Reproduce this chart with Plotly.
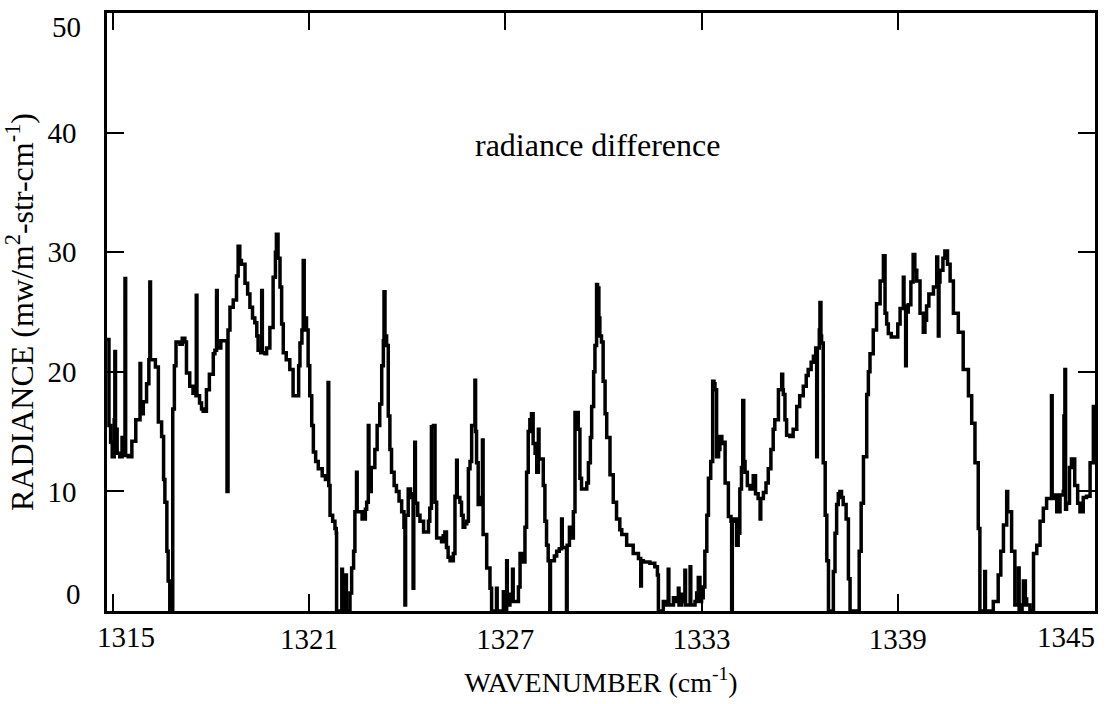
import plotly.graph_objects as go

wavenumber = [
    1314.82, 1314.88, 1314.93, 1314.98, 1315.04, 1315.06, 1315.08, 1315.13, 1315.21, 1315.28,
    1315.34, 1315.37, 1315.39, 1315.47, 1315.58, 1315.70, 1315.83, 1315.85, 1315.93, 1316.03,
    1316.10, 1316.13, 1316.15, 1316.30, 1316.39, 1316.49, 1316.55, 1316.59, 1316.65, 1316.69,
    1316.74, 1316.82, 1316.83, 1316.88, 1316.93, 1317.05, 1317.12, 1317.20, 1317.25, 1317.35,
    1317.45, 1317.54, 1317.55, 1317.57, 1317.65, 1317.71, 1317.76, 1317.86, 1317.95, 1318.07,
    1318.12, 1318.17, 1318.19, 1318.30, 1318.47, 1318.49, 1318.52, 1318.58, 1318.68, 1318.78,
    1318.83, 1318.88, 1318.93, 1319.04, 1319.12, 1319.19, 1319.27, 1319.34, 1319.40, 1319.44,
    1319.52, 1319.55, 1319.57, 1319.65, 1319.70, 1319.80, 1319.90, 1319.97, 1320.00, 1320.05,
    1320.11, 1320.16, 1320.21, 1320.30, 1320.41, 1320.51, 1320.62, 1320.68, 1320.72, 1320.78,
    1320.82, 1320.85, 1320.92, 1320.97, 1321.02, 1321.08, 1321.13, 1321.20, 1321.28, 1321.40,
    1321.50, 1321.58, 1321.60, 1321.64, 1321.72, 1321.79, 1321.83, 1321.84, 1321.98, 1322.00,
    1322.02, 1322.10, 1322.12, 1322.14, 1322.25, 1322.30, 1322.36, 1322.40, 1322.45, 1322.47,
    1322.55, 1322.62, 1322.66, 1322.72, 1322.76, 1322.81, 1322.83, 1322.90, 1323.01, 1323.08,
    1323.16, 1323.22, 1323.27, 1323.29, 1323.32, 1323.37, 1323.42, 1323.47, 1323.52, 1323.60,
    1323.67, 1323.75, 1323.83, 1323.90, 1323.93, 1323.95, 1324.03, 1324.10, 1324.16, 1324.18,
    1324.20, 1324.23, 1324.25, 1324.32, 1324.39, 1324.50, 1324.59, 1324.65, 1324.69, 1324.74,
    1324.80, 1324.85, 1324.90, 1325.00, 1325.05, 1325.10, 1325.15, 1325.20, 1325.25, 1325.31,
    1325.36, 1325.41, 1325.46, 1325.51, 1325.53, 1325.61, 1325.66, 1325.71, 1325.76, 1325.82,
    1325.87, 1325.92, 1325.97, 1326.07, 1326.09, 1326.12, 1326.17, 1326.25, 1326.30, 1326.32,
    1326.43, 1326.53, 1326.58, 1326.70, 1326.73, 1326.75, 1326.90, 1326.94, 1326.96, 1327.02,
    1327.04, 1327.06, 1327.14, 1327.20, 1327.22, 1327.24, 1327.34, 1327.40, 1327.45, 1327.50,
    1327.55, 1327.60, 1327.65, 1327.70, 1327.75, 1327.80, 1327.85, 1327.91, 1327.96, 1328.01,
    1328.03, 1328.11, 1328.16, 1328.21, 1328.26, 1328.31, 1328.36, 1328.38, 1328.41, 1328.50,
    1328.57, 1328.65, 1328.72, 1328.74, 1328.82, 1328.87, 1328.89, 1328.96, 1329.03, 1329.08,
    1329.13, 1329.16, 1329.23, 1329.28, 1329.33, 1329.40, 1329.49, 1329.54, 1329.60, 1329.64,
    1329.70, 1329.74, 1329.79, 1329.82, 1329.86, 1329.89, 1329.94, 1329.99, 1330.05, 1330.10,
    1330.20, 1330.30, 1330.40, 1330.50, 1330.56, 1330.71, 1330.91, 1331.07, 1331.14, 1331.16,
    1331.22, 1331.42, 1331.57, 1331.65, 1331.68, 1331.80, 1331.83, 1331.90, 1331.98, 1332.00,
    1332.14, 1332.20, 1332.29, 1332.31, 1332.39, 1332.45, 1332.49, 1332.51, 1332.60, 1332.65,
    1332.67, 1332.80, 1332.85, 1332.90, 1332.95, 1333.00, 1333.05, 1333.10, 1333.16, 1333.21,
    1333.28, 1333.34, 1333.38, 1333.41, 1333.46, 1333.52, 1333.56, 1333.62, 1333.66, 1333.72,
    1333.82, 1333.90, 1333.92, 1333.94, 1333.97, 1334.07, 1334.12, 1334.17, 1334.22, 1334.26,
    1334.29, 1334.33, 1334.40, 1334.48, 1334.58, 1334.65, 1334.73, 1334.79, 1334.81, 1334.89,
    1334.97, 1335.04, 1335.12, 1335.19, 1335.24, 1335.35, 1335.45, 1335.48, 1335.50, 1335.55,
    1335.60, 1335.70, 1335.80, 1335.91, 1336.00, 1336.11, 1336.20, 1336.26, 1336.35, 1336.42,
    1336.49, 1336.52, 1336.54, 1336.60, 1336.62, 1336.65, 1336.67, 1336.72, 1336.78, 1336.83,
    1336.88, 1336.98, 1337.03, 1337.08, 1337.13, 1337.18, 1337.23, 1337.28, 1337.33, 1337.42,
    1337.49, 1337.54, 1337.79, 1337.82, 1337.88, 1337.95, 1338.05, 1338.10, 1338.15, 1338.25,
    1338.35, 1338.46, 1338.56, 1338.61, 1338.66, 1338.71, 1338.80, 1338.91, 1339.00, 1339.07,
    1339.17, 1339.19, 1339.24, 1339.26, 1339.32, 1339.40, 1339.47, 1339.52, 1339.58, 1339.68,
    1339.78, 1339.83, 1339.88, 1339.95, 1340.09, 1340.19, 1340.22, 1340.24, 1340.26, 1340.29,
    1340.38, 1340.44, 1340.52, 1340.60, 1340.70, 1340.85, 1341.00, 1341.16, 1341.26, 1341.36,
    1341.46, 1341.51, 1341.64, 1341.66, 1341.68, 1341.77, 1341.92, 1342.07, 1342.15, 1342.23,
    1342.33, 1342.36, 1342.48, 1342.58, 1342.64, 1342.69, 1342.71, 1342.80, 1342.84, 1342.90,
    1342.94, 1343.04, 1343.12, 1343.15, 1343.25, 1343.35, 1343.45, 1343.55, 1343.65, 1343.70,
    1343.72, 1343.80, 1343.86, 1343.96, 1344.06, 1344.08, 1344.11, 1344.13, 1344.16, 1344.25,
    1344.31, 1344.41, 1344.50, 1344.57, 1344.67, 1344.77, 1344.88, 1344.98, 1345.00,
]

radiance = [
    22.7, 15.5, 14.1, 12.9, 16.0, 21.7, 15.2, 13.2, 12.9, 14.5,
    13.0, 27.8, 13.0, 12.9, 14.2, 16.0, 20.7, 16.5, 17.5, 19.0,
    21.0, 27.5, 21.0, 20.4, 15.8, 14.6, 11.0, 9.1, 5.0, 2.5,
    0.0, 0.0, 16.9, 20.5, 22.5, 22.3, 22.8, 22.5, 19.9, 18.8,
    18.2, 18.0, 26.4, 18.0, 17.4, 16.9, 16.7, 18.5, 19.8, 21.5,
    21.8, 26.8, 22.0, 22.6, 22.6, 10.0, 23.5, 25.4, 26.0, 28.0,
    30.5, 29.3, 29.0, 27.4, 26.5, 25.4, 24.5, 24.1, 23.0, 21.8,
    21.6, 26.8, 21.6, 21.5, 22.0, 23.7, 27.9, 30.0, 31.5, 29.5,
    27.1, 24.0, 21.6, 21.0, 20.2, 18.0, 18.0, 20.5, 22.4, 23.5,
    29.3, 24.5, 23.5, 20.5, 18.0, 15.5, 13.3, 12.5, 11.9, 11.3,
    11.0, 19.1, 10.5, 8.0, 7.5, 6.9, 6.5, 0.0, 0.0, 3.5,
    0.0, 0.0, 3.0, 0.0, 1.5, 3.6, 5.0, 8.3, 11.6, 8.3,
    8.3, 7.7, 7.7, 8.5, 9.1, 15.5, 10.0, 12.0, 13.5, 15.5,
    17.3, 20.5, 22.6, 26.7, 23.0, 22.2, 16.3, 13.5, 11.6, 10.5,
    10.0, 9.2, 8.3, 7.0, 0.5, 8.0, 10.2, 9.5, 9.8, 1.9,
    9.5, 14.1, 9.0, 8.0, 7.5, 6.6, 6.6, 7.5, 8.6, 15.4,
    15.5, 9.1, 6.1, 6.1, 5.8, 6.3, 6.6, 5.3, 4.5, 4.2,
    4.2, 4.8, 9.6, 12.6, 9.5, 9.1, 8.0, 7.0, 7.3, 7.5,
    11.9, 12.5, 15.5, 19.3, 15.0, 12.4, 8.9, 9.5, 14.3, 6.4,
    3.6, 1.9, 0.0, 0.0, 1.9, 0.0, 0.0, 1.6, 0.0, 0.0,
    4.2, 0.5, 1.4, 1.0, 3.5, 0.8, 0.8, 2.0, 4.8, 4.5,
    4.1, 7.0, 11.6, 15.0, 16.0, 16.5, 14.0, 13.2, 11.6, 15.2,
    12.7, 12.7, 10.5, 7.5, 5.5, 4.2, 0.0, 4.2, 4.2, 4.6,
    5.0, 5.2, 7.7, 5.3, 5.3, 0.0, 5.5, 7.0, 6.1, 8.3,
    16.6, 16.6, 15.2, 11.1, 10.2, 10.2, 10.7, 12.4, 14.5, 17.1,
    20.0, 22.2, 27.3, 27.0, 24.5, 23.0, 22.5, 19.2, 16.5, 14.5,
    11.4, 9.1, 7.7, 6.8, 6.4, 5.5, 4.8, 4.4, 2.1, 4.2,
    4.1, 4.0, 3.7, 3.0, 0.0, 0.0, 0.8, 0.5, 3.5, 0.5,
    1.1, 0.8, 1.9, 0.5, 1.4, 0.8, 3.4, 0.5, 0.5, 3.7,
    0.5, 0.8, 1.5, 2.8, 0.8, 1.1, 2.0, 5.0, 8.0, 11.1,
    12.5, 19.2, 19.0, 18.5, 12.9, 13.5, 14.6, 14.0, 14.1, 10.7,
    7.9, 7.5, 0.0, 7.5, 7.7, 5.5, 6.5, 10.2, 12.0, 17.6,
    12.5, 11.6, 10.5, 10.2, 11.3, 9.8, 9.4, 7.7, 9.4, 9.9,
    10.7, 11.9, 13.5, 15.2, 16.0, 18.5, 19.8, 18.5, 18.1, 16.0,
    14.7, 14.6, 15.2, 17.1, 18.0, 18.8, 19.7, 20.2, 20.8, 21.3,
    22.0, 12.9, 22.0, 23.5, 25.8, 23.0, 22.4, 12.4, 8.0, 4.2,
    0.0, 0.0, 3.3, 6.5, 8.9, 9.8, 10.0, 9.5, 8.9, 7.7,
    2.7, 0.0, 0.0, 5.0, 9.0, 12.9, 18.1, 20.0, 21.5, 23.5,
    25.7, 27.6, 29.7, 24.9, 24.0, 23.2, 22.9, 22.9, 24.0, 25.3,
    27.9, 25.5, 20.5, 25.0, 25.6, 27.5, 29.8, 28.5, 27.6, 24.9,
    23.3, 24.3, 25.5, 26.5, 27.1, 29.6, 28.0, 23.0, 27.5, 28.5,
    29.5, 30.1, 29.0, 27.6, 24.9, 23.3, 20.2, 18.0, 15.7, 12.4,
    6.9, 0.0, 0.0, 3.3, 0.0, 0.0, 0.8, 3.0, 5.0, 7.2,
    10.0, 8.3, 5.0, 0.5, 0.5, 3.6, 0.0, 0.5, 2.5, 1.0,
    0.5, 0.0, 0.0, 4.8, 5.5, 7.5, 8.6, 9.4, 9.4, 18.0,
    9.4, 9.7, 8.3, 9.7, 10.0, 16.3, 20.2, 8.5, 9.0, 12.0,
    12.7, 10.5, 9.0, 8.3, 9.5, 9.6, 12.4, 17.1, 17.0,
]

x_ticks = [1315, 1321, 1327, 1333, 1339, 1345]
y_ticks = [0, 10, 20, 30, 40, 50]
annotation_text = "radiance difference"

serif = "'Liberation Serif', 'Times New Roman', Times, serif"
tick_size = 29

fig = go.Figure()
fig.add_trace(go.Scatter(
    x=wavenumber, y=radiance, mode="lines",
    line=dict(color="black", width=3.5, shape="hv"),
    showlegend=False, hoverinfo="skip",
))

fig.add_annotation(
    x=1329.83, y=39.0, xref="x", yref="y", text=annotation_text,
    showarrow=False, font=dict(family=serif, size=32, color="black"),
)

# end tick labels, nudged inward as in the original figure
fig.add_annotation(x=0, xref="paper", y=y_ticks[0], yref="y", text=str(y_ticks[0]),
                   xanchor="right", yanchor="middle", xshift=-24, yshift=17,
                   showarrow=False, font=dict(family=serif, size=tick_size, color="black"))
fig.add_annotation(x=0, xref="paper", y=y_ticks[-1], yref="y", text=str(y_ticks[-1]),
                   xanchor="right", yanchor="middle", xshift=-24, yshift=-14,
                   showarrow=False, font=dict(family=serif, size=tick_size, color="black"))
fig.add_annotation(x=x_ticks[0], xref="x", y=0, yref="paper", text=str(x_ticks[0]),
                   xanchor="center", yanchor="middle", xshift=13, yshift=-26,
                   showarrow=False, font=dict(family=serif, size=tick_size, color="black"))
fig.add_annotation(x=x_ticks[-1], xref="x", y=0, yref="paper", text=str(x_ticks[-1]),
                   xanchor="right", yanchor="middle", xshift=3, yshift=-26,
                   showarrow=False, font=dict(family=serif, size=tick_size, color="black"))

axis_common = dict(
    showline=True, linecolor="black", linewidth=2.5, mirror="ticks",
    ticks="inside", ticklen=17, tickwidth=2.2, tickcolor="black",
    showgrid=False, zeroline=False, automargin=False,
    tickfont=dict(family=serif, size=tick_size, color="black"),
    ticklabeloverflow="allow",
)

x_text = [str(t) for t in x_ticks]
x_text[0] = ""
x_text[-1] = ""
y_text = [str(t) for t in y_ticks]
y_text[0] = ""
y_text[-1] = ""

fig.update_xaxes(
    range=[1314.82, 1345.03], tickvals=x_ticks, ticktext=x_text,
    title=dict(text="WAVENUMBER (cm<sup>-1</sup>)", font=dict(family=serif, size=28, color="black"), standoff=19),
    ticklabelstandoff=0,
    **axis_common,
)
fig.update_yaxes(
    range=[0, 50], tickvals=y_ticks, ticktext=y_text,
    title=dict(text="RADIANCE (mw/m<sup>2</sup>-str-cm<sup>-1</sup>)", font=dict(family=serif, size=32, color="black"), standoff=6),
    ticklabelstandoff=22,
    **axis_common,
)

fig.update_layout(
    template="none",
    width=1108, height=704,
    margin=dict(l=107, r=13, t=13, b=93),
    paper_bgcolor="white", plot_bgcolor="white",
    font=dict(family=serif, color="black"),
)

fig.write_html(
    "out.html",
    config={"displayModeBar": False},
    post_script="document.body.style.margin='0';document.body.style.overflow='hidden';",
)
